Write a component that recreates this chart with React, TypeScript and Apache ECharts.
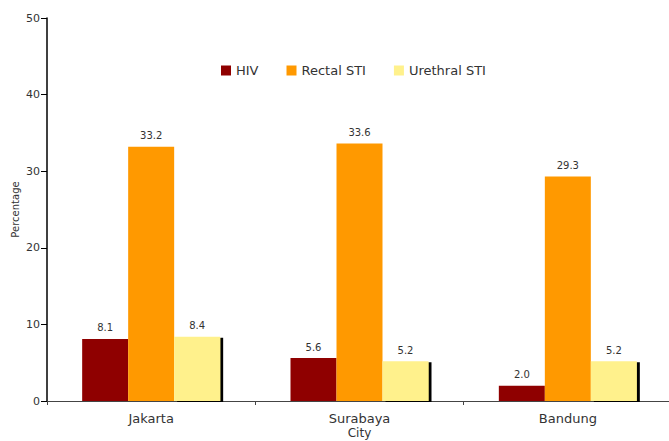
import React, { useEffect, useRef } from "react";
import * as echarts from "echarts";

const cities = ["Jakarta", "Surabaya", "Bandung"];
const hiv = [8.1, 5.6, 2.0];
const rectalSti = [33.2, 33.6, 29.3];
const urethralSti = [8.4, 5.2, 5.2];
const yTicks = { min: 0, max: 50, interval: 10 };

const FONT = "DejaVu Sans";

export default function App() {
  const ref = useRef<HTMLDivElement>(null);

  useEffect(() => {
    if (!ref.current) return;
    const chart = echarts.init(ref.current, null, { renderer: "svg" });

    const valueLabel = {
      show: true,
      position: "top" as const,
      distance: 6,
      color: "#333",
      fontSize: 10,
      fontFamily: FONT,
      formatter: (p: any) => Number(p.value).toFixed(1),
    };

    chart.setOption({
      animation: false,
      backgroundColor: "#ffffff",
      textStyle: { fontFamily: FONT },
      legend: {
        left: 216,
        top: 59,
        icon: "rect",
        itemWidth: 10,
        itemHeight: 10,
        itemGap: 28,
        textStyle: { color: "#333", fontSize: 13, fontFamily: FONT },
        data: ["HIV", "Rectal STI", "Urethral STI"],
      },
      grid: {
        left: 47,
        top: 18,
        width: 625,
        height: 383,
        containLabel: false,
        outerBoundsMode: "none",
      },
      xAxis: {
        type: "category",
        data: cities,
        name: "City",
        nameLocation: "middle",
        nameGap: 26,
        nameMoveOverlap: false,
        nameTextStyle: { color: "#333", fontSize: 12, fontFamily: FONT },
        axisLine: { lineStyle: { color: "#444", width: 1 } },
        axisTick: { show: true, length: 4, lineStyle: { color: "#444" } },
        axisLabel: { color: "#333", fontSize: 13, margin: 11, fontFamily: FONT },
      },
      yAxis: {
        type: "value",
        min: yTicks.min,
        max: yTicks.max,
        interval: yTicks.interval,
        name: "Percentage",
        nameLocation: "middle",
        nameGap: 27,
        nameMoveOverlap: false,
        nameTextStyle: { color: "#333", fontSize: 10, fontFamily: FONT },
        axisLine: { show: true, lineStyle: { color: "#000", width: 1.5 } },
        axisTick: { show: true, length: 6, lineStyle: { color: "#000" } },
        axisLabel: { color: "#333", fontSize: 11, margin: 7, fontFamily: FONT },
        splitLine: { show: false },
      },
      series: [
        {
          name: "HIV",
          type: "bar",
          data: hiv,
          barWidth: 46,
          barGap: "0%",
          itemStyle: { color: "#8f0000" },
          label: valueLabel,
        },
        {
          name: "Rectal STI",
          type: "bar",
          data: rectalSti,
          barWidth: 46,
          barGap: "0%",
          itemStyle: { color: "#ff9900" },
          label: valueLabel,
        },
        {
          name: "Urethral STI",
          type: "bar",
          data: urethralSti,
          barWidth: 46,
          barGap: "0%",
          itemStyle: {
            color: "#fff18c",
            shadowColor: "#000",
            shadowBlur: 0,
            shadowOffsetX: 3,
            shadowOffsetY: 1,
          },
          label: valueLabel,
        },
      ],
    });

    return () => chart.dispose();
  }, []);

  return (
    <div
      ref={ref}
      style={{ position: "absolute", left: 0, top: 0, width: 669, height: 441 }}
    />
  );
}
